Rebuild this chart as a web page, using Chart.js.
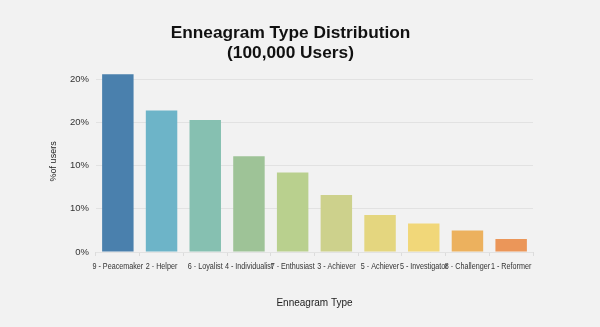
<!DOCTYPE html>
<html>
<head>
<meta charset="utf-8">
<script src="https://cdn.jsdelivr.net/npm/chart.js@4/dist/chart.umd.min.js"></script>
<style>
html,body{margin:0;padding:0;background:#f2f2f2;}
#wrap{width:600px;height:327px;position:relative;}
</style>
</head>
<body>
<div id="wrap"><canvas id="c"></canvas></div>
<script>
const categories = ['9 - Peacemaker','2 - Helper','6 - Loyalist','4 - Individualist','7 - Enthusiast','3 - Achiever','5 - Achiever','5 - Investigator','8 - Challenger','1 - Reformer'];
const percentUsers = [20.6, 16.4, 15.3, 11.1, 9.2, 6.6, 4.3, 3.3, 2.5, 1.5];
const barColors = ['#4a80ad','#6db4c8','#86c0b1','#9ec397','#b9d08e','#cdd18c','#e4d67f','#f1d779','#ecb15e','#eb9659'];
const yTickValues = [0, 5, 10, 15, 20];
const yTickLabels = ['0%','10%','10%','20%','20%'];

const FONT = "'Liberation Sans', Arial, sans-serif";

// Draws the x category labels slightly condensed (as in the reference)
const condensedXLabels = {
  id: 'condensedXLabels',
  afterDraw(chart) {
    const xs = chart.scales.x;
    const ctx = chart.ctx;
    ctx.save();
    ctx.font = '9px ' + FONT;
    ctx.fillStyle = '#333';
    ctx.textAlign = 'center';
    ctx.textBaseline = 'middle';
    const y = xs.top + 14.5;
    chart.data.labels.forEach((lab, i) => {
      const x = xs.getPixelForTick(i);
      ctx.save();
      ctx.translate(x, y);
      ctx.scale(0.8, 1);
      ctx.fillText(lab, 0, 0);
      ctx.restore();
    });
    ctx.restore();
  }
};

new Chart(document.getElementById('c'), {
  type: 'bar',
  data: {
    labels: categories,
    datasets: [{
      data: percentUsers,
      backgroundColor: barColors,
      borderWidth: 0
    }]
  },
  plugins: [condensedXLabels],
  options: {
    responsive: true,
    maintainAspectRatio: false,
    animation: false,
    layout: { padding: { left: 48, right: 67, top: 0, bottom: 14 } },
    plugins: {
      legend: { display: false },
      tooltip: { enabled: false },
      title: {
        display: true,
        text: ['Enneagram Type Distribution', '(100,000 Users)'],
        color: '#111',
        font: { family: FONT, size: 17.3, weight: 'bold', lineHeight: 1.12 },
        padding: { top: 24, bottom: 8 }
      }
    },
    scales: {
      x: {
        grid: { drawOnChartArea: false, drawTicks: true, tickLength: 4, color: '#dcdcdc' },
        border: { display: false },
        ticks: { color: 'rgba(0,0,0,0)', font: { family: FONT, size: 9 }, maxRotation: 0, autoSkip: false, padding: 5 },
        title: { display: true, text: 'Enneagram Type', color: '#222', font: { family: FONT, size: 10 }, padding: { top: 24 } },
        afterFit: (s) => { s.height = 61; }
      },
      y: {
        min: 0, max: 21,
        afterBuildTicks: (axis) => { axis.ticks = yTickValues.map(v => ({ value: v })); },
        grid: { color: '#e2e2e2', drawTicks: false },
        border: { display: false },
        ticks: {
          color: '#333', font: { family: FONT, size: 9.5 }, padding: 7,
          callback: (v) => { const i = yTickValues.indexOf(v); return i >= 0 ? yTickLabels[i] : ''; }
        },
        title: { display: true, text: '%of users', color: '#222', font: { family: FONT, size: 9 }, padding: 0 },
        afterFit: (s) => { s.width = 48; }
      }
    }
  }
});
</script>
</body>
</html>
